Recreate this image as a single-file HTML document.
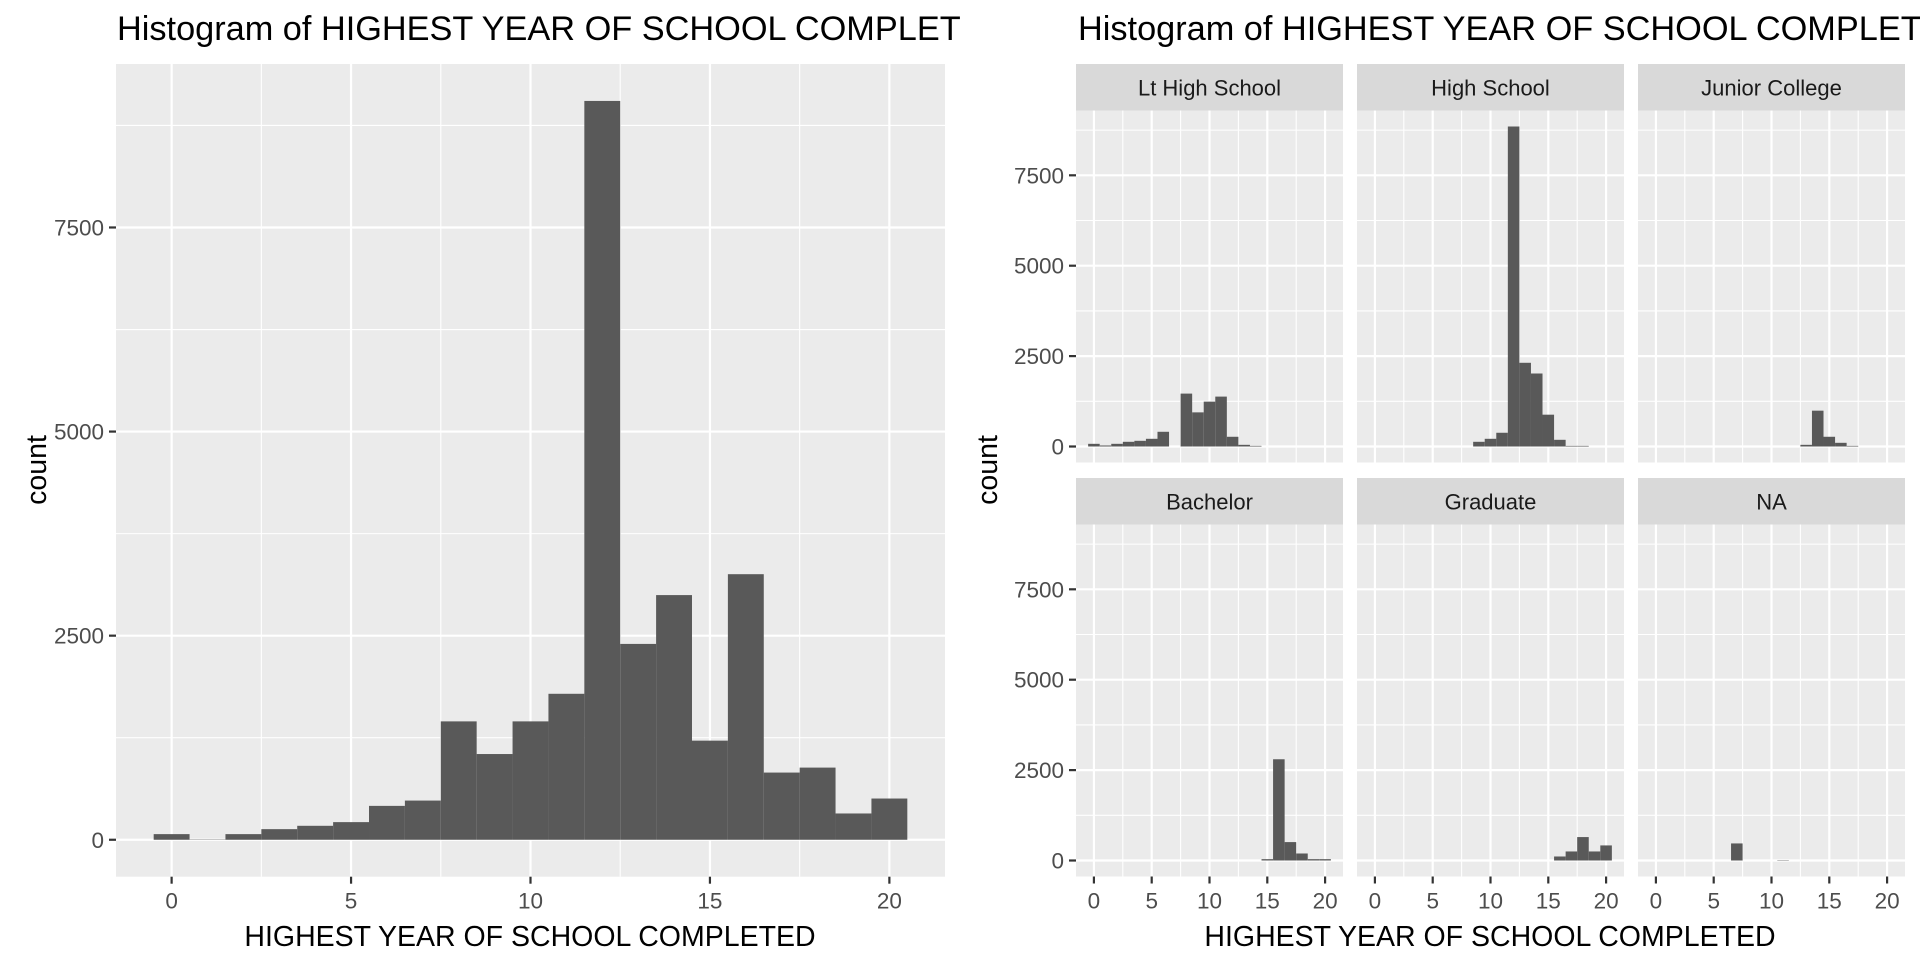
<!DOCTYPE html>
<html><head><meta charset="utf-8"><style>
html,body{margin:0;padding:0;background:#fff;}
svg{display:block;font-family:"Liberation Sans",Arial,sans-serif;}
</style></head><body>
<svg id="chart" width="1920" height="960" viewBox="0 0 1920 960" xmlns="http://www.w3.org/2000/svg">
<defs><clipPath id="leftclip"><rect x="0" y="0" width="961" height="960"/></clipPath></defs>
<text x="117" y="40" font-size="34.3" fill="#000" clip-path="url(#leftclip)">Histogram of HIGHEST YEAR OF SCHOOL COMPLETED</text>
<text x="1078" y="40" font-size="34.3" fill="#000">Histogram of HIGHEST YEAR OF SCHOOL COMPLETED</text>
<g id="left"></g>
<g id="right"></g>
<text x="530" y="946" font-size="28.5" text-anchor="middle" fill="#000">HIGHEST YEAR OF SCHOOL COMPLETED</text>
<text x="1490" y="946" font-size="28.5" text-anchor="middle" fill="#000">HIGHEST YEAR OF SCHOOL COMPLETED</text>
<text transform="translate(46,470) rotate(-90)" font-size="28.5" text-anchor="middle" fill="#000">count</text>
<text transform="translate(997,470) rotate(-90)" font-size="28.5" text-anchor="middle" fill="#000">count</text>
</svg>
<script>
const years = [0,1,2,3,4,5,6,7,8,9,10,11,12,13,14,15,16,17,18,19,20];
const totalCounts = [69,4,69,130,171,216,415,480,1450,1050,1450,1788,9050,2399,2997,1214,3253,823,884,322,505];
const facetNames = ["Lt High School","High School","Junior College","Bachelor","Graduate","NA"];
const ltHighSchool = [74,28,74,130,157,213,407,0,1463,944,1241,1380,269,46,18,0,0,0,0,0,0];
const highSchool   = [0,0,0,0,0,0,0,0,0,130,213,380,8850,2315,2019,880,185,18,18,0,0];
const juniorCollege= [0,0,0,0,0,0,0,0,0,0,0,0,0,46,991,269,102,18,0,0,0];
const bachelor     = [0,0,0,0,0,0,0,0,0,0,0,0,0,0,0,37,2800,509,194,37,37];
const graduate     = [0,0,0,0,0,0,0,0,0,0,0,0,0,0,0,0,111,250,648,250,417];
const naGroup      = [0,0,0,0,0,0,0,472,0,0,0,10,0,0,0,0,0,0,0,0,0];
const xTicks = [0,5,10,15,20];
const yTicks = [0,2500,5000,7500];
const facetSeries = [ltHighSchool,highSchool,juniorCollege,bachelor,graduate,naGroup];

const NS="http://www.w3.org/2000/svg";
function mk(tag,attrs,parent){const e=document.createElementNS(NS,tag);for(const k in attrs)e.setAttribute(k,attrs[k]);parent.appendChild(e);return e;}

function drawPanel(g,x0,y0,w,h,counts,maxY,showY,showX,pname){
  const xmin=-0.5-1.05, xmax=20.5+1.05;
  const ymin=-0.05*maxY, ymax=1.05*maxY;
  const sx=v=>x0+(v-xmin)/(xmax-xmin)*w;
  const sy=v=>y0+h-(v-ymin)/(ymax-ymin)*h;
  const bg=mk('rect',{x:x0,y:y0,width:w,height:h,fill:'#EBEBEB'},g);
  
  
  for(let v=-2.5; v<=22.5; v+=5){ if(v<xmin||v>xmax) continue;
    const l=mk('line',{x1:sx(v),x2:sx(v),y1:y0,y2:y0+h,stroke:'#fff','stroke-width':1.1},g);
    
    }
  for(let v=-1250; v<=12500; v+=2500){ if(v<ymin||v>ymax) continue;
    const l=mk('line',{x1:x0,x2:x0+w,y1:sy(v),y2:sy(v),stroke:'#fff','stroke-width':1.1},g);
    
    }
  xTicks.forEach(v=>{
    const l=mk('line',{x1:sx(v),x2:sx(v),y1:y0,y2:y0+h,stroke:'#fff','stroke-width':2.2},g);
    
    });
  yTicks.forEach(v=>{ if(v>ymax) return;
    const l=mk('line',{x1:x0,x2:x0+w,y1:sy(v),y2:sy(v),stroke:'#fff','stroke-width':2.2},g);
    
    });
  years.forEach((yr,i)=>{ const c=counts[i]; if(!c) return;
    const b=mk('rect',{x:sx(yr-0.5),y:sy(c),width:sx(yr+0.5)-sx(yr-0.5),height:sy(0)-sy(c),fill:'#595959'},g);
    
    });
  if(showY){ yTicks.forEach(v=>{
    const t=mk('line',{x1:x0-7,x2:x0,y1:sy(v),y2:sy(v),stroke:'#333','stroke-width':2.2},g);
    
    
    const tx=mk('text',{x:x0-12,y:sy(v)+8,'font-size':22.5,'text-anchor':'end',fill:'#4D4D4D'},g);
    tx.textContent=v;
    
    });}
  if(showX){ xTicks.forEach(v=>{
    const t=mk('line',{x1:sx(v),x2:sx(v),y1:y0+h,y2:y0+h+7,stroke:'#333','stroke-width':2.2},g);
    
    
    const tx=mk('text',{x:sx(v),y:y0+h+32,'font-size':22.5,'text-anchor':'middle',fill:'#4D4D4D'},g);
    tx.textContent=v;
    
    });}
}
const left=document.getElementById('left');
drawPanel(left,116,64,829,812.7,totalCounts,Math.max(...totalCounts),true,true,'overall');

const right=document.getElementById('right');
const colX=[1076,1357,1638], colW=267;
const rowStrip=[64,478], stripH=46.5, panelH=352;
const fmax=Math.max(...facetSeries.map(s=>Math.max(...s)));
facetSeries.forEach((s,i)=>{
  const c=i%3, r=Math.floor(i/3);
  const g=mk('g',{},right);
  
  
  const st=mk('rect',{x:colX[c],y:rowStrip[r],width:colW,height:stripH,fill:'#D9D9D9'},g);
  
  
  const tt=mk('text',{x:colX[c]+colW/2,y:rowStrip[r]+stripH/2+8,'font-size':22,'text-anchor':'middle',fill:'#1A1A1A'},g);
  tt.textContent=facetNames[i];
  
  
  drawPanel(g,colX[c],rowStrip[r]+stripH,colW,panelH,s,fmax,c===0,r===1,'facet');
});
</script>
</body></html>
